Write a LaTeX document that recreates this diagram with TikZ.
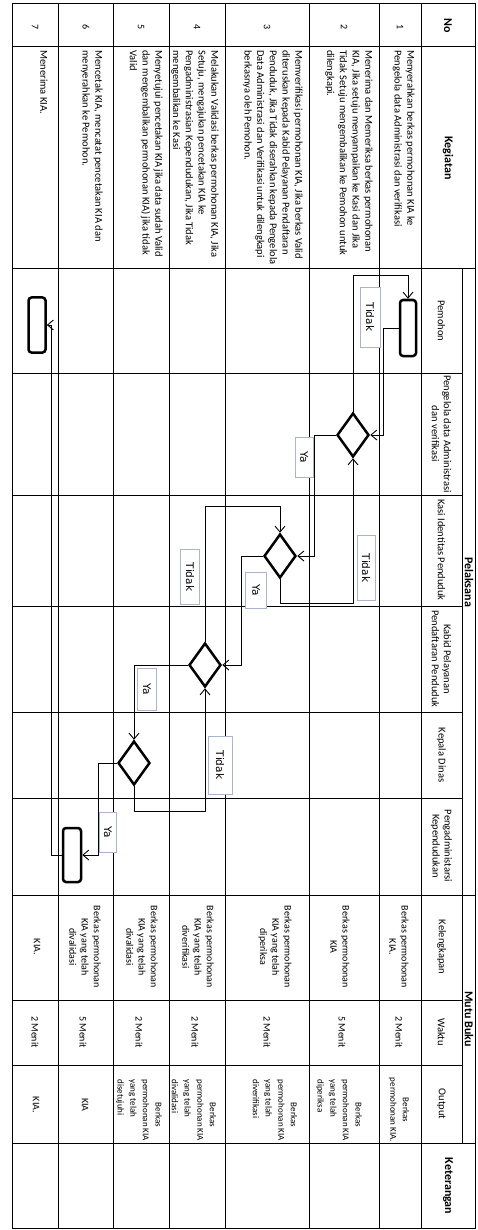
\documentclass[tikz,border=0pt]{standalone}
\usepackage{fontspec}
\setmainfont{Carlito}
\newfontfamily\labelfont{DejaVu Sans}
\usetikzlibrary{shapes.geometric, arrows.meta}
\definecolor{mygray}{RGB}{170,180,205}

\begin{document}
\begin{tikzpicture}[x=1pt, y=-1pt, >={Straight Barb[length=6pt,width=10pt]},
		line width=0.8pt, font=\fontsize{10}{12}\selectfont,
		judul/.style={rotate=-90, inner sep=0pt, font=\bfseries\fontsize{12}{14}\selectfont},
		sub/.style={rotate=-90, align=center, inner sep=0pt, font=\fontsize{10.5}{12}\selectfont},
		isi/.style={rotate=-90, align=left, anchor=north west, inner sep=0pt, font=\fontsize{10.5}{12.7}\selectfont},
		sel/.style={rotate=-90, align=center, inner sep=0pt, font=\fontsize{10}{12.2}\selectfont},
		hasil/.style={rotate=-90, align=left, anchor=west, inner sep=0pt, font=\fontsize{9}{12.7}\selectfont},
		kotak/.style={draw, line width=2.5pt, rounded corners=3pt, minimum width=16pt, minimum height=56pt, inner sep=0pt},
		belah/.style={draw, diamond, line width=2.5pt, minimum width=32pt, minimum height=44pt, inner sep=0pt},
		alur/.style={->, line width=0.9pt},
		ket/.style={draw=mygray, line width=0.5pt, fill=white, rotate=-90, inner sep=0pt, font=\labelfont\fontsize{10.5}{12}\selectfont}]
	\useasboundingbox (0,0) rectangle (477,1230);
	% Tabelle
	\draw[line width=1pt] (12,3.5) rectangle (475.5,1228);
	\foreach \r in {58,113.5,169,225.5,309,379,421} \draw[line width=1pt] (\r,3.5) -- (\r,1228);
	\draw[line width=1pt] (462,269) -- (462,1143);
	\foreach \k in {47,269,895,1143} \draw[line width=1pt] (12,\k) -- (475.5,\k);
	\foreach \k in {373,495,606,712,798,1000,1065} \draw[line width=1pt] (12,\k) -- (462,\k);
	% Kopf
	\node[judul] (hNo) at (448,26) {No};
	\node[judul] (hKeg) at (448,158) {Kegiatan};
	\node[judul] (hPel) at (469,582) {Pelaksana};
	\node[judul] (hMutu) at (469,1019) {Mutu Buku};
	\node[judul] (hKet) at (448,1186) {Keterangan};
	\foreach \y/\t [count=\i] in {321/Pemohon, 434/{Pengelola data Administrasi\\dan verifikasi},
			550/Kasi Identitas Penduduk, 659/{Kabid Pelayanan\\Pendaftaran Penduduk}, 755/Kepala Dinas,
			846/{Pengadministarsi\\Kependudukan}, 947/Kelengkapan, 1032/Waktu, 1104/Output}
		\node[sub] (sub\i) at (441.5,\y) {\t};
	% Nomor
	\foreach \x/\n in {400/1,344/2,267/3,197/4,141/5,86/6,35/7}
		\node[sel] (no\n) at (\x,27) {\n};
	% Kegiatan
	\node[isi] (keg1) at (415,50) {Menyerahkan berkas permohonan KIA ke\\Pengelola data Administrasi dan verifikasi};
	\node[isi] (keg2) at (373,50) {Menerima dan Memeriksa berkas permohonan\\KIA, Jika setuju menyampaikan ke Kasi dan Jika\\Tidak Setuju mengembalikan ke Pemohon untuk\\dilengkapi.};
	\node[isi] (keg3) at (303,50) {Memverifikasi permohonan KIA, Jika berkas Valid\\diteruskan kepada Kabid Pelayanan Pendaftaran\\Penduduk, Jika Tidak diserahkan kepada Pengelola\\Data Administrasi dan Verifikasi untuk dilengkapi\\berkasnya oleh Pemohon.};
	\node[isi] (keg4) at (219,50) {Melakukan Validasi berkas permohonan KIA, Jika\\Setuju, mengajukan pencetakan KIA ke\\Pengadministrasian Kependudukan, Jika Tidak\\mengembalikan ke Kasi};
	\node[isi] (keg5) at (163,50) {Menyetujui pencetakan KIA jika data sudah Valid\\dan mengembalikan permohonan KIA) jika tidak\\Valid};
	\node[isi] (keg6) at (103,50) {Mencetak KIA, mencatat pencetakan KIA dan\\menyerahkan ke Pemohon.};
	\node[isi] (keg7) at (48,50) {Menerima KIA.};
	% Kelengkapan
	\node[sel] (kel1) at (399,947) {Berkas permohonan\\KIA.};
	\node[sel] (kel2) at (340,947) {Berkas permohonan\\KIA};
	\node[sel] (kel3) at (275,947) {Berkas permohonan\\KIA yang telah\\diperiksa};
	\node[sel] (kel4) at (198,947) {Berkas permohonan\\KIA yang telah\\diverifikasi};
	\node[sel] (kel5) at (142,947) {Berkas permohonan\\KIA yang telah\\divalidasi};
	\node[sel] (kel6) at (85,947) {Berkas permohonan\\KIA yang telah\\divalidasi};
	\node[sel] (kel7) at (37,947) {KIA.};
	% Waktu
	\foreach \x/\w [count=\i] in {399/2,342/5,267/2,195/2,139/2,83/5,35/2}
		\node[sel] (wkt\i) at (\x,1032) {\w{} Menit};
	% Output
	\node[sel, font=\fontsize{9}{12.7}\selectfont] (out1) at (399,1110) {Berkas\\permohonan KIA.};
	\node[hasil] (out2) at (339,1079) {\hspace*{2.6em}Berkas\\permohonan KIA\\yang telah\\diperiksa};
	\node[hasil] (out3) at (275,1079) {\hspace*{2.6em}Berkas\\permohonan KIA\\yang telah\\diverifikasi};
	\node[hasil] (out4) at (194,1079) {\hspace*{2.6em}Berkas\\permohonan KIA\\yang telah\\divalidasi};
	\node[hasil] (out5) at (139,1079) {\hspace*{2.6em}Berkas\\permohonan KIA\\yang telah\\disetujuhi};
	\node[sel] (out6) at (85,1105) {KIA};
	\node[sel] (out7) at (36,1105) {KIA.};
	% Alur
	\node[kotak] (b1) at (408,328) {};
	\node[belah] (d1) at (353,435) {};
	\node[belah] (d2) at (280,556) {};
	\node[belah] (d3) at (205,665) {};
	\node[belah] (d4) at (134,763) {};
	\node[kotak, minimum width=18pt, minimum height=54pt] (b2) at (72,855) {};
	\node[kotak, minimum width=17pt, minimum height=55pt] (b3) at (37,325) {};
	\draw[alur] (d1.north) -- ++(0,-136) -| (b1.north);
	\draw[alur] (b1.west) -- ++(-15,0) |- (d1.east);
	\draw[alur] (d1.west) -- ++(-21,0) |- (d2.east);
	\draw[alur] (d2.south) -- ++(0,24) -| (d1.south);
	\draw[alur] (d2.west) -- ++(-21,0) |- (d3.east);
	\draw[alur] (d3.north) -- ++(0,-135) -| (d2.north);
	\draw[alur] (d3.west) -| (d4.north);
	\draw[alur] (d4.south) -- ++(0,25) -| (d3.south);
	\draw[alur] (d4.west) -- ++(-18,0) |- (b2.east);
	\draw[alur] (b2.west) -- ++(-10,0) |- (b3.east);
	% Beschriftung
	\node[ket, minimum width=60pt, minimum height=20pt] (t1) at (370,317) {Tidak};
	\node[ket, minimum width=40pt, minimum height=18pt] (y1) at (304,457) {Ya};
	\node[ket, minimum width=65pt, minimum height=18pt] (t2) at (366,568) {Tidak};
	\node[ket, minimum width=55pt, minimum height=19pt] (t3) at (190,577) {Tidak};
	\node[ket, minimum width=36pt, minimum height=21pt] (y2) at (256,590) {Ya};
	\node[ket, minimum width=42pt, minimum height=19pt] (y3) at (147,689) {Ya};
	\node[ket, minimum width=58pt, minimum height=24pt] (t4) at (220,765) {Tidak};
	\node[ket, minimum width=40pt, minimum height=17pt] (y4) at (108,832) {Ya};
\end{tikzpicture}
\end{document}
